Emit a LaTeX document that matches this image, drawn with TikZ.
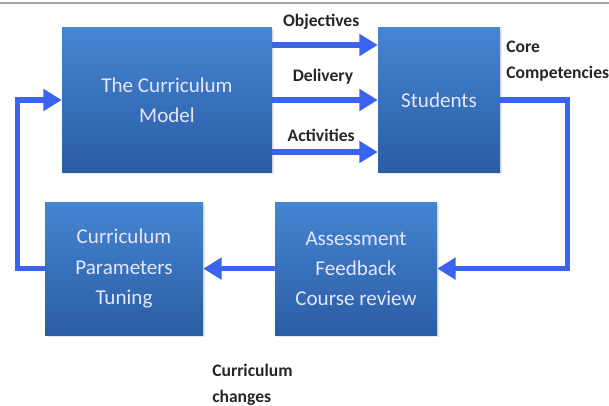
\documentclass[tikz,border=0pt]{standalone}
\usepackage{fontspec}
\setmainfont{Carlito}
\usetikzlibrary{arrows.meta, positioning, shadows}

\definecolor{boxtop}{HTML}{4585D2}
\definecolor{boxbot}{HTML}{2A5DA4}
\definecolor{flowblue}{HTML}{3A63F0}

\begin{document}
\begin{tikzpicture}[
                every node/.style={font=\fontsize{15}{21.5}\selectfont},
                block/.style={rectangle, top color=boxtop, bottom color=boxbot, draw=none, text=white!90!blue, align=center, drop shadow={opacity=0.2, shadow xshift=0.05cm, shadow yshift=-0.05cm}},
                tag/.style={font=\bfseries\fontsize{12.5}{18.5}\selectfont, text=black!85, align=left},
                flow/.style={line width=3.6pt, draw=flowblue, -{Triangle[length=13pt, width=15pt]}}
            ]
            
                \useasboundingbox (0,0) rectangle (15.225,10.125);
                \draw[black!35, line width=1.2pt] (0,10.05) -- (15.225,10.05);
            
                % Nodes
                \node (model) [block, minimum width=5.25cm, minimum height=3.6cm] at (4.175,7.625) {The Curriculum\\Model};
                \node (stud) [block, minimum width=3.05cm, minimum height=3.6cm] at (10.975,7.625) {Students};
                \node (tune) [block, minimum width=3.95cm, minimum height=3.325cm] at (3.1,3.41) {Curriculum\\Parameters\\Tuning};
                \node (assess) [block, minimum width=4.05cm, minimum height=3.325cm] at (8.9,3.41) {Assessment\\Feedback\\Course review};
                
                % Labels
                \node (obj) [tag] at (8.03,9.575) {Objectives};
                \node (deliv) [tag] at (8.075,8.2) {Delivery};
                \node (act) [tag] at (8.03,6.75) {Activities};
                \node (core) [tag, anchor=west, inner sep=0pt] at (12.65,8.59) {Core\\Competencies};
                \node (change) [tag, anchor=west, inner sep=0pt] at (5.3,0.51) {Curriculum\\changes};
                
                % Arrows
                \draw [flow] ([yshift=1.375cm]model.east) -- ([yshift=1.375cm]model.east -| stud.west);
                \draw [flow] (model.east) -- (stud.west);
                \draw [flow] ([yshift=-1.3cm]model.east) -- ([yshift=-1.3cm]model.east -| stud.west);
                \draw [flow] (stud.east) -- ++(1.675,0) |- (assess.east);
                \draw [flow] (assess.west) -- (tune.east);
                \draw [flow] (tune.west) -- ++(-0.675,0) |- (model.west);
            
            \end{tikzpicture}
\end{document}
